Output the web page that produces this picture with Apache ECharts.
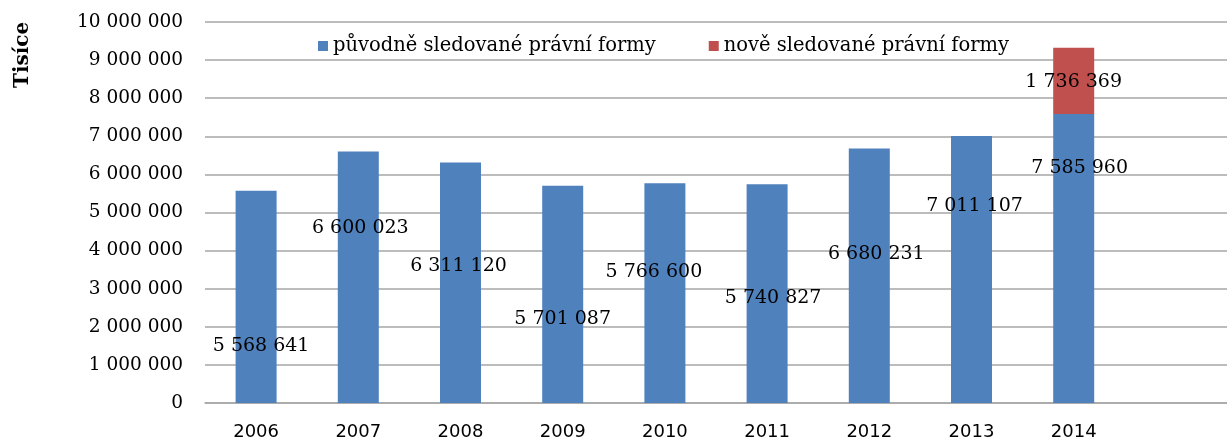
<!DOCTYPE html>
<html>
<head>
<meta charset="utf-8">
<script src="https://cdn.jsdelivr.net/npm/echarts@6/dist/echarts.min.js"></script>
<style>
    html, body { margin: 0; padding: 0; background: #fff; }
    #chart { width: 1227px; height: 441px; }
</style>
</head>
<body>
<div id="chart"></div>
<script>
/*data*/
var years = ['2006', '2007', '2008', '2009', '2010', '2011', '2012', '2013', '2014', ''];
var puvodne = [5568641, 6600023, 6311120, 5701087, 5766600, 5740827, 6680231, 7011107, 7585960, null];
var nove = [null, null, null, null, null, null, null, null, 1736369, null];
var seriesNames = ['původně sledované právní formy', 'nově sledované právní formy'];

/*label shifts (px), the labels in the original were dragged around*/
var blueShift = [[5, 49], [2, -49], [-2, -17], [0, 25], [-11, -21], [6, 4], [7, -22], [3, -63], [6, -90], [0, 0]];
var redShift = [0, 1];

var fmt = function (v) {
    return String(v).replace(/\B(?=(\d{3})+(?!\d))/g, ' ');
};

var box = document.getElementById('chart');
var myChart = echarts.init(box);

var blueData = puvodne.map(function (v, i) {
    return {
        value: v,
        label: { offset: blueShift[i] }
    };
});
var redData = nove.map(function (v) {
    return {
        value: v,
        label: { offset: redShift }
    };
});

var option = {
    animation: false,
    textStyle: { fontFamily: 'DejaVu Serif' },
    grid: {
        left: 205,
        top: 22,
        width: 1031,
        height: 383
    },
    legend: {
        data: seriesNames,
        left: 313,
        top: 31,
        itemWidth: 10,
        itemHeight: 10,
        itemGap: 53,
        icon: 'rect',
        textStyle: { fontFamily: 'DejaVu Serif', fontSize: 19.5, color: '#000' }
    },
    graphic: [{
        type: 'text',
        x: 13,
        y: 88,
        rotation: Math.PI / 2,
        style: {
            text: 'Tisíce',
            font: 'bold 20px "DejaVu Serif"',
            fill: '#000'
        }
    }],
    xAxis: {
        type: 'category',
        data: years,
        axisTick: { show: false },
        axisLine: { lineStyle: { color: '#a6a6a6', width: 1.5 } },
        axisLabel: {
            fontFamily: 'DejaVu Sans',
            fontSize: 18,
            color: '#000',
            margin: 20
        }
    },
    yAxis: {
        type: 'value',
        min: 0,
        max: 10000000,
        interval: 1000000,
        axisLine: { show: false },
        axisTick: { show: false },
        splitLine: { lineStyle: { color: '#a6a6a6', width: 1.5 } },
        axisLabel: {
            fontFamily: 'DejaVu Serif',
            fontSize: 18.5,
            color: '#000',
            margin: 22,
            formatter: fmt
        }
    },
    series: [
        {
            name: seriesNames[0],
            type: 'bar',
            stack: 'total',
            barWidth: 41,
            itemStyle: { color: '#4f81bd' },
            label: {
                show: true,
                position: 'inside',
                color: '#000',
                fontFamily: 'DejaVu Serif',
                fontSize: 19,
                formatter: function (p) { return fmt(p.value); }
            },
            data: blueData
        },
        {
            name: seriesNames[1],
            type: 'bar',
            stack: 'total',
            barWidth: 41,
            itemStyle: { color: '#c0504d' },
            label: {
                show: true,
                position: 'inside',
                color: '#000',
                fontFamily: 'DejaVu Serif',
                fontSize: 19,
                formatter: function (p) { return fmt(p.value); }
            },
            data: redData
        }
    ]
};
myChart.setOption(option);
</script>
</body>
</html>
